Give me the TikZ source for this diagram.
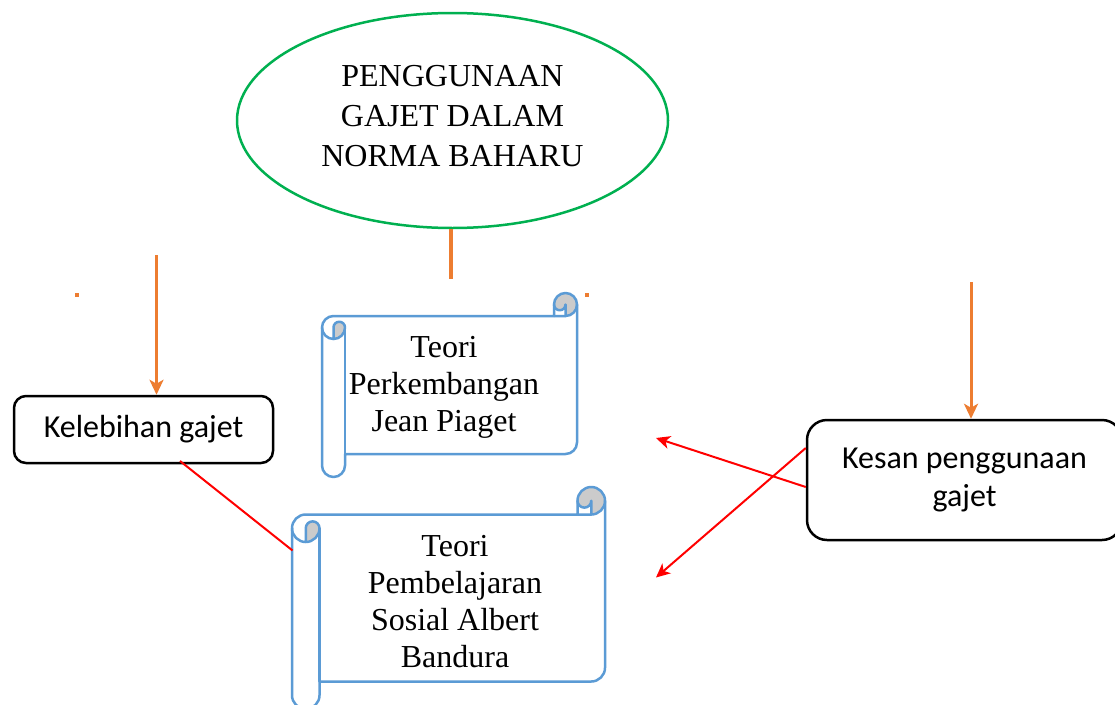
\documentclass[tikz,border=0pt]{standalone}
\usepackage{fontspec}
\setmainfont{Liberation Serif}
\newfontfamily\calfont{Carlito}
\usetikzlibrary{arrows.meta,shapes.geometric}
\definecolor{ellgreen}{HTML}{00B050}
\definecolor{orng}{HTML}{ED7D31}
\definecolor{scblue}{HTML}{5B9BD5}
\definecolor{scgray}{HTML}{CBCBCB}
\definecolor{redline}{HTML}{FF0000}

% horizontal scroll: #1=l #2=t #3=r #4=b #5=ch
\newcommand{\hscroll}[5]{%
 \begin{scope}[shift={(#1,#2)}]
  \pgfmathsetmacro\scW{#3-#1}
  \pgfmathsetmacro\scH{#4-#2}
  \pgfmathsetmacro\scC{#5}
  \pgfmathsetmacro\scCh{#5/2}
  \pgfmathsetmacro\scCq{#5/4}
  \pgfmathsetmacro\scYiii{\scC+\scCh}
  \pgfmathsetmacro\scYiv{2*\scC}
  \pgfmathsetmacro\scYvi{\scH-\scC}
  \pgfmathsetmacro\scYvii{\scH-\scCh}
  \pgfmathsetmacro\scYv{\scYvi-\scCh}
  \pgfmathsetmacro\scXiii{\scW-\scC}
  \pgfmathsetmacro\scXiv{\scW-\scCh}
  \fill[white] (0,\scYiii) arc[start angle=180, delta angle=90, radius=\scCh]
    -- (\scXiii,\scC) -- (\scXiii,\scCh) arc[start angle=180, delta angle=180, radius=\scCh]
    -- (\scW,\scYv) arc[start angle=0, delta angle=90, radius=\scCh]
    -- (\scC,\scYvi) -- (\scC,\scYvii) arc[start angle=0, delta angle=180, radius=\scCh] -- cycle;
  \fill[scgray] (\scCh,\scYiv) arc[start angle=90, delta angle=-90, radius=\scCh]
    arc[start angle=0, delta angle=-180, radius=\scCq] -- cycle;
  \fill[scgray] (\scXiv,\scC) arc[start angle=90, delta angle=-270, radius=\scCh]
    arc[start angle=180, delta angle=-180, radius=\scCq] -- cycle;
  \draw[scrollline] (0,\scYiii) arc[start angle=180, delta angle=90, radius=\scCh]
    -- (\scXiii,\scC) -- (\scXiii,\scCh) arc[start angle=180, delta angle=180, radius=\scCh]
    -- (\scW,\scYv) arc[start angle=0, delta angle=90, radius=\scCh]
    -- (\scC,\scYvi) -- (\scC,\scYvii) arc[start angle=0, delta angle=180, radius=\scCh] -- cycle;
  \draw[scrollline] (\scXiii,\scC) -- (\scXiv,\scC) arc[start angle=90, delta angle=-90, radius=\scCh];
  \draw[scrollline] (\scXiv,\scC) -- (\scXiv,\scCh) arc[start angle=0, delta angle=180, radius=\scCq];
  \draw[scrollline] (\scCh,\scYiv) -- (\scCh,\scYiii) arc[start angle=180, delta angle=180, radius=\scCq]
    arc[start angle=0, delta angle=180, radius=\scCh];
  \draw[scrollline] (\scC,\scYiii) -- (\scC,\scYvi);
 \end{scope}}

\begin{document}
\begin{tikzpicture}[x=1pt,y=-1pt,
  scrollline/.style={draw=scblue, line width=2.5pt, line join=round, line cap=round},
  serifbig/.style={font=\fontsize{32}{40}\selectfont, align=center, inner sep=0pt},
  scrolltext/.style={font=\fontsize{32}{37}\selectfont, align=center, inner sep=0pt},
  roundbox/.style={draw=black, line width=2.5pt, align=center, inner sep=0pt,
     font=\calfont\fontsize{32}{38}\selectfont},
  orangearrow/.style={draw=orng, line width=3pt, -{Stealth[length=15pt,width=14pt,inset=4pt]}},
  redarrow/.style={draw=redline, line width=2pt, -{Stealth[length=14pt,width=13pt,inset=4pt]}},
  redplain/.style={draw=redline, line width=2pt}
]
\useasboundingbox (0,0) rectangle (1115,704);
\fill[white] (0,0) rectangle (1115,704);

% title ellipse
\node[ellipse, draw=ellgreen, line width=2.5pt, minimum width=431pt, minimum height=215pt,
  serifbig, text depth=9pt] (ell) at (452.5,120.5) {PENGGUNAAN\\GAJET DALAM\\NORMA BAHARU};

% scrolls
\hscroll{322}{293}{577}{477}{23}
\hscroll{292}{487}{605}{709}{27.5}
\node[scrolltext] (sc1) at (444,387) {Teori\\Perkembangan\\Jean Piaget};
\node[scrolltext] (sc2) at (455,601.5) {Teori\\Pembelajaran\\Sosial Albert\\Bandura};

% boxes
\node[roundbox, rounded corners=12pt, minimum width=259pt, minimum height=67pt] (kel)
  at (143.5,429.5) {Kelebihan gajet};
\node[roundbox, rounded corners=20pt, minimum width=315pt, minimum height=120pt] (kes)
  at (964.5,480) {\raisebox{-2pt}{\parbox{300pt}{\centering Kesan penggunaan\\gajet}}};

% orange connectors
\coordinate (ostem) at (450.5,279);
\draw[draw=orng, line width=4pt] (ell.south -| ostem) -- (ostem);
\coordinate (oleft) at (156.5,255);
\coordinate (oright) at (971,282);
\draw[orangearrow] (oleft) -- (kel.north -| oleft);
\draw[orangearrow] (oright) -- (kes.north -| oright);
\fill[orng] (75,292.5) rectangle (79,296.5);
\fill[orng] (585,292.5) rectangle (589,296.5);

% red connectors
\coordinate (kelfoot) at (180,461);
\coordinate (sc2left) at (292.5,550.5);
\draw[redplain] (kelfoot) -- (sc2left);
\coordinate (kesA) at (807,487);
\coordinate (kesB) at (807,448);
\coordinate (tipA) at (656,438);
\coordinate (tipB) at (656,577.5);
\draw[redarrow] (kes.west |- kesA) -- (tipA);
\draw[redarrow] (kes.west |- kesB) -- (tipB);
\end{tikzpicture}
\end{document}
